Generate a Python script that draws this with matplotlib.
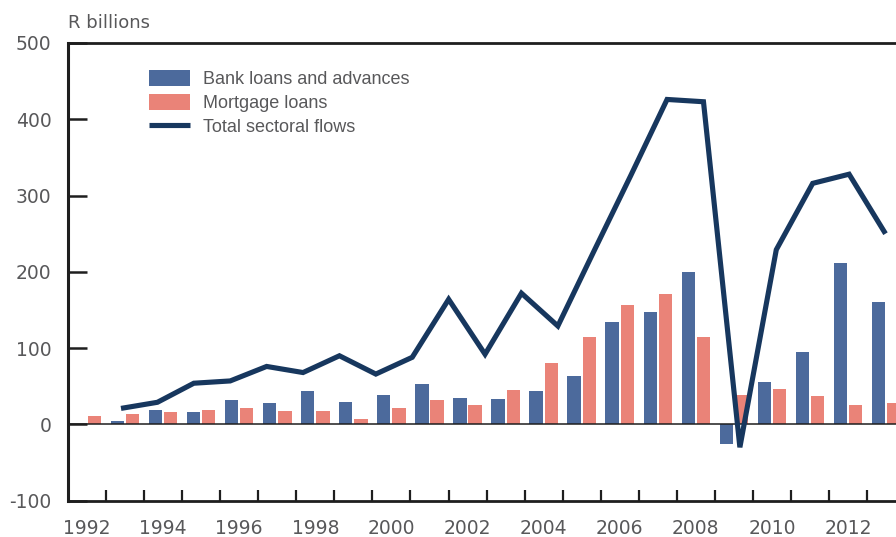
import matplotlib
matplotlib.use("Agg")
import matplotlib.pyplot as plt
import numpy as np

# ---- data ----
years = list(range(1992, 2014))
bank_loans = [1, 5, 19, 16, 32, 28, 44, 29, 38, 53, 34, 33, 44, 64, 134, 147, 200, -26, 56, 95, 211, 160]
mortgage_loans = [11, 13.5, 16, 19, 22, 17, 17, 6.5, 22, 32, 26, 45, 80, 114, 157, 171, 115, 38, 47, 37, 26, 28]
total_years = list(range(1992, 2014))
total_flows = [21, 29, 54, 57, 76, 68, 90, 66, 88, 164, 92, 172, 129, 228, 326, 426, 423, -30, 229, 316, 328, 250]
xtick_labels = [str(y) for y in range(1992, 2014, 2)]
yticks = [-100, 0, 100, 200, 300, 400, 500]

BLUE = "#4c6a9c"
SALMON = "#ea8378"
NAVY = "#17375e"
TXT = "#58585a"
SPINE = "#1e1e1e"

W, H = 896, 537
fig = plt.figure(figsize=(W / 100, H / 100), dpi=100)
left_px, right_px, top_px, bot_px = 68, 896, 43, 500.7
ax = fig.add_axes([left_px / W, 1 - bot_px / H, (right_px - left_px) / W, (bot_px - top_px) / H])

px_per_year = 38.05
x0 = 1991.5
x1 = x0 + (right_px - left_px) / px_per_year
ax.set_xlim(x0, x1)
ax.set_ylim(-100, 500)

yr = np.array(years, dtype=float)
bw = 0.35
ax.bar(yr - 0.2, bank_loans, width=bw, color=BLUE, zorder=2, label="Bank loans and advances")
ax.bar(yr + 0.2, mortgage_loans, width=bw, color=SALMON, zorder=2, label="Mortgage loans")
ax.axhline(0, color=SPINE, lw=1.1, zorder=2.5)

# line series sits on its own category axis (as in the original chart)
ax2 = ax.twiny()
f_first = (121 - left_px) / (right_px - left_px)
f_last = (885.5 - left_px) / (right_px - left_px)
span = (total_years[-1] - total_years[0]) / (f_last - f_first)
ax2.set_xlim(total_years[0] - f_first * span, total_years[0] + (1 - f_first) * span)
ln, = ax2.plot(total_years, total_flows, color=NAVY, lw=3.7, solid_joinstyle="miter",
               solid_capstyle="butt", zorder=3, label="Total sectoral flows")
ax2.set_axis_off()

# spines
for s in ["left", "bottom", "top"]:
    ax.spines[s].set_color(SPINE)
ax.spines["left"].set_linewidth(2.2)
ax.spines["bottom"].set_linewidth(2.0)
ax.spines["top"].set_linewidth(2.0)
ax.spines["right"].set_visible(False)

# y ticks
ax.set_yticks(yticks)
ax.set_yticklabels([str(v) for v in yticks])
ax.tick_params(axis="y", direction="in", length=14, width=1.8, color=SPINE, pad=12,
               labelsize=13.5, labelcolor=TXT)

# x ticks: marks at year boundaries, labels at even years
ax.set_xticks(np.arange(1992.5, 2013.5, 1.0))
ax.set_xticklabels([])
ax.tick_params(axis="x", which="major", direction="in", length=8, width=1.6, color=SPINE)
ax.set_xticks(np.arange(1992, 2014, 2), minor=True)
ax.set_xticklabels(xtick_labels, minor=True)
ax.tick_params(axis="x", which="minor", length=0, pad=13, labelsize=13.5, labelcolor=TXT)
for t in ax.get_xticklabels(minor=True) + ax.get_yticklabels():
    t.set_fontfamily("DejaVu Sans")

ax.text(0, 1 + (top_px - 27.5) / (bot_px - top_px), "R billions", transform=ax.transAxes,
        ha="left", va="baseline", fontsize=13, color=TXT, family="DejaVu Sans")

h1, l1 = ax.get_legend_handles_labels()
leg = ax2.legend(h1 + [ln], l1 + [ln.get_label()], loc="upper left",
                 bbox_to_anchor=((149 - left_px) / (right_px - left_px), 1 - (70 - top_px) / (bot_px - top_px)),
                 frameon=False, borderpad=0, borderaxespad=0, handlelength=2.27, handleheight=0.95,
                 handletextpad=0.7, labelspacing=0.34,
                 prop={"family": "Liberation Sans", "size": 13})
for t in leg.get_texts():
    t.set_color(TXT)

fig.savefig("out.png", dpi=100)
